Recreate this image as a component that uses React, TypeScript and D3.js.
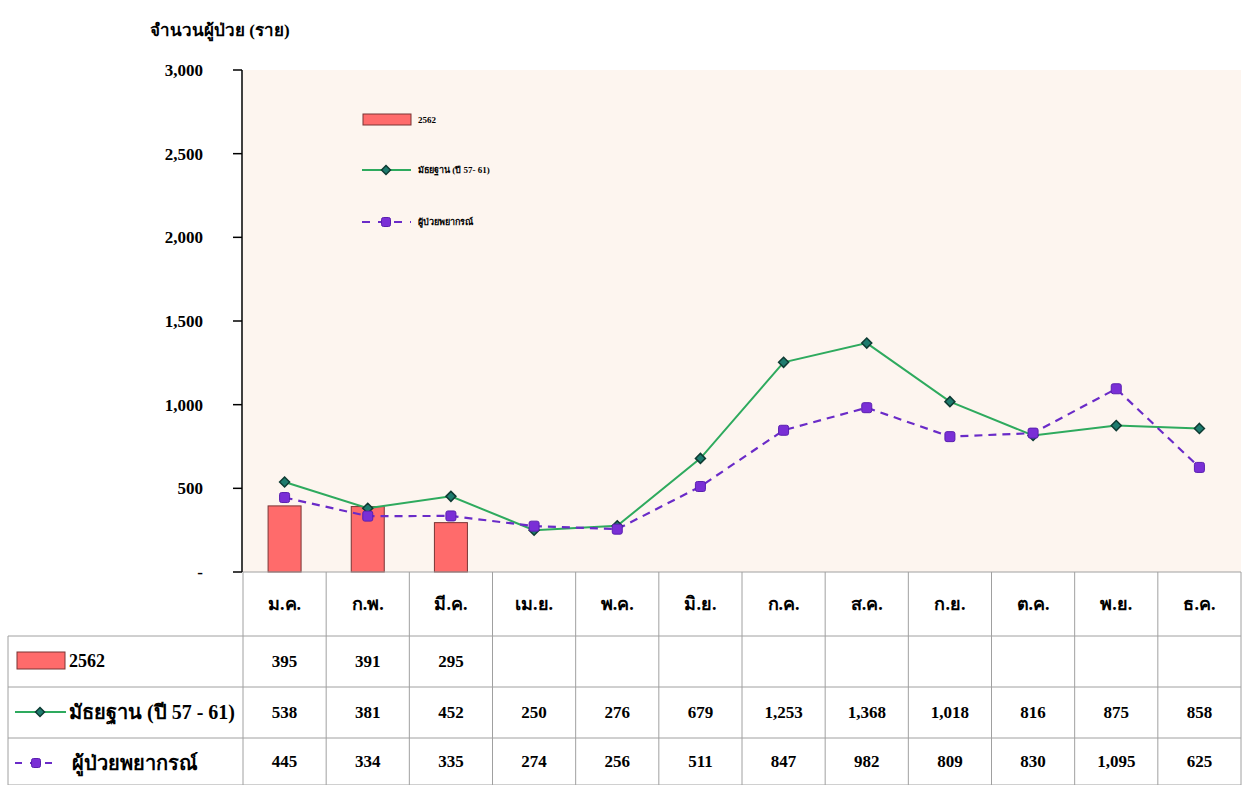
import React from 'react';
import { scaleBand, scaleLinear, line, format } from 'd3';

const months = ['ม.ค.', 'ก.พ.', 'มี.ค.', 'เม.ย.', 'พ.ค.', 'มิ.ย.', 'ก.ค.', 'ส.ค.', 'ก.ย.', 'ต.ค.', 'พ.ย.', 'ธ.ค.'];
const cases2562 = [395, 391, 295];
const median5y = [538, 381, 452, 250, 276, 679, 1253, 1368, 1018, 816, 875, 858];
const forecast = [445, 334, 335, 274, 256, 511, 847, 982, 809, 830, 1095, 625];
const yTicks = [0, 500, 1000, 1500, 2000, 2500, 3000];

const seriesNames = ['2562', 'มัธยฐาน (ปี 57 - 61)', 'ผู้ป่วยพยากรณ์'];
const legendNames = ['2562', 'มัธยฐาน (ปี 57- 61)', 'ผู้ป่วยพยากรณ์'];

const W = 1243;
const H = 785;
const left = 243;
const right = 1241;
const top = 70;
const bottom = 572;
const rowEdges = [572, 636, 687, 738, 785];

const BAR = '#FF6B6B';
const GREEN = '#2EAA5E';
const TEAL = '#1E7B6E';
const PURPLE = '#6A2BC8';
const GRID = '#A0A0A0';
const FONT = '"Liberation Serif", "Times New Roman", "DejaVu Serif", serif';

const fmt = format(',');

const Diamond: React.FC<{ x: number; y: number; s?: number }> = ({ x, y, s = 5 }) => (
  <path d={`M${x},${y - s}L${x + s},${y}L${x},${y + s}L${x - s},${y}Z`} fill={TEAL} stroke="#0E3B33" strokeWidth={1.5} />
);

const Blob: React.FC<{ x: number; y: number; s?: number }> = ({ x, y, s = 5 }) => (
  <rect x={x - s} y={y - s} width={s * 2} height={s * 2} rx={2} fill="#7A2FD6" stroke="#5A1FB0" strokeWidth={1} />
);

const App: React.FC = () => {
  const x = scaleBand<string>().domain(months).range([left, right]).padding(0);
  const y = scaleLinear().domain([0, 3000]).range([bottom, top]);
  const cx = (m: string) => (x(m) ?? 0) + x.bandwidth() / 2;
  const barW = 33;

  const lineGen = line<number>()
    .x((_, i) => cx(months[i]))
    .y(d => y(d));

  const rows = [cases2562, median5y, forecast];

  return (
    <svg width={W} height={H} style={{ position: 'absolute', left: 0, top: 0, background: '#fff' }} fontFamily={FONT}>
      {/* title */}
      <text x={150} y={36} fontSize={17} fontWeight="bold" fill="#000">จำนวนผู้ป่วย (ราย)</text>

      {/* plot background */}
      <rect x={left} y={top} width={right - left} height={bottom - top} fill="#FDF5EF" />

      {/* y axis */}
      <line x1={left - 1} x2={left - 1} y1={top} y2={bottom} stroke="#000" strokeWidth={1.5} />
      {yTicks.map(t => (
        <g key={t}>
          <line x1={left - 10} x2={left - 1} y1={y(t)} y2={y(t)} stroke="#000" strokeWidth={1.5} />
          <text x={203} y={y(t)} dy="0.35em" textAnchor="end" fontSize={17} fontWeight="bold">
            {t === 0 ? '-' : fmt(t)}
          </text>
        </g>
      ))}

      {/* bars */}
      {cases2562.map((v, i) => (
        <rect key={i} x={cx(months[i]) - barW / 2} y={y(v)} width={barW} height={bottom - y(v)}
          fill={BAR} stroke="#7A3535" strokeWidth={1} />
      ))}

      {/* median line */}
      <path d={lineGen(median5y) ?? ''} fill="none" stroke={GREEN} strokeWidth={2} />
      {/* forecast line */}
      <path d={lineGen(forecast) ?? ''} fill="none" stroke={PURPLE} strokeWidth={2.2} strokeDasharray="8,6" />
      {median5y.map((v, i) => <Diamond key={i} x={cx(months[i])} y={y(v)} />)}
      {forecast.map((v, i) => <Blob key={i} x={cx(months[i])} y={y(v)} />)}

      {/* legend inside plot */}
      <rect x={363} y={114} width={48} height={11} fill={BAR} stroke="#7A3535" />
      <text x={418} y={120} dy="0.35em" fontSize={9} fontWeight="bold">{legendNames[0]}</text>
      <line x1={362} x2={411} y1={170} y2={170} stroke={GREEN} strokeWidth={2} />
      <Diamond x={386} y={170} s={4.5} />
      <text x={418} y={170} dy="0.35em" fontSize={9} fontWeight="bold">{legendNames[1]}</text>
      <line x1={362} x2={411} y1={222} y2={222} stroke={PURPLE} strokeWidth={2.2} strokeDasharray="8,8" />
      <Blob x={386} y={222} s={4.5} />
      <text x={418} y={222} dy="0.35em" fontSize={9} fontWeight="bold">{legendNames[2]}</text>

      {/* data table */}
      <line x1={left} x2={right} y1={bottom} y2={bottom} stroke={GRID} strokeWidth={1} />
      {rowEdges.slice(1).map((ry, i) => (
        <line key={i} x1={8} x2={right} y1={ry} y2={ry} stroke={GRID} strokeWidth={1} />
      ))}
      <line x1={8} x2={8} y1={rowEdges[1]} y2={H} stroke={GRID} />
      {months.map(m => (
        <line key={m} x1={x(m)} x2={x(m)} y1={bottom} y2={H} stroke={GRID} />
      ))}
      <line x1={right} x2={right} y1={bottom} y2={H} stroke={GRID} />

      {months.map(m => (
        <text key={m} x={cx(m)} y={(rowEdges[0] + rowEdges[1]) / 2} dy="0.35em" textAnchor="middle" fontSize={18} fontWeight="bold">{m}</text>
      ))}
      {rows.map((vals, r) =>
        vals.map((v, i) => (
          <text key={`${r}-${i}`} x={cx(months[i])} y={(rowEdges[r + 1] + rowEdges[r + 2]) / 2} dy="0.35em"
            textAnchor="middle" fontSize={17} fontWeight="bold">{fmt(v)}</text>
        ))
      )}

      {/* table row labels */}
      <rect x={17} y={652} width={48} height={17} fill={BAR} stroke="#7A3535" />
      <text x={69} y={661} dy="0.35em" fontSize={18} fontWeight="bold">{seriesNames[0]}</text>
      <line x1={15} x2={66} y1={712} y2={712} stroke={GREEN} strokeWidth={2} />
      <Diamond x={40} y={712} s={4.5} />
      <text x={69} y={712} dy="0.35em" fontSize={20} fontWeight="bold">{seriesNames[1]}</text>
      <line x1={15} x2={60} y1={763} y2={763} stroke={PURPLE} strokeWidth={2.2} strokeDasharray="7,8" />
      <Blob x={36} y={763} s={4.5} />
      <text x={72} y={763} dy="0.35em" fontSize={20} fontWeight="bold">{seriesNames[2]}</text>
    </svg>
  );
};

export default App;
